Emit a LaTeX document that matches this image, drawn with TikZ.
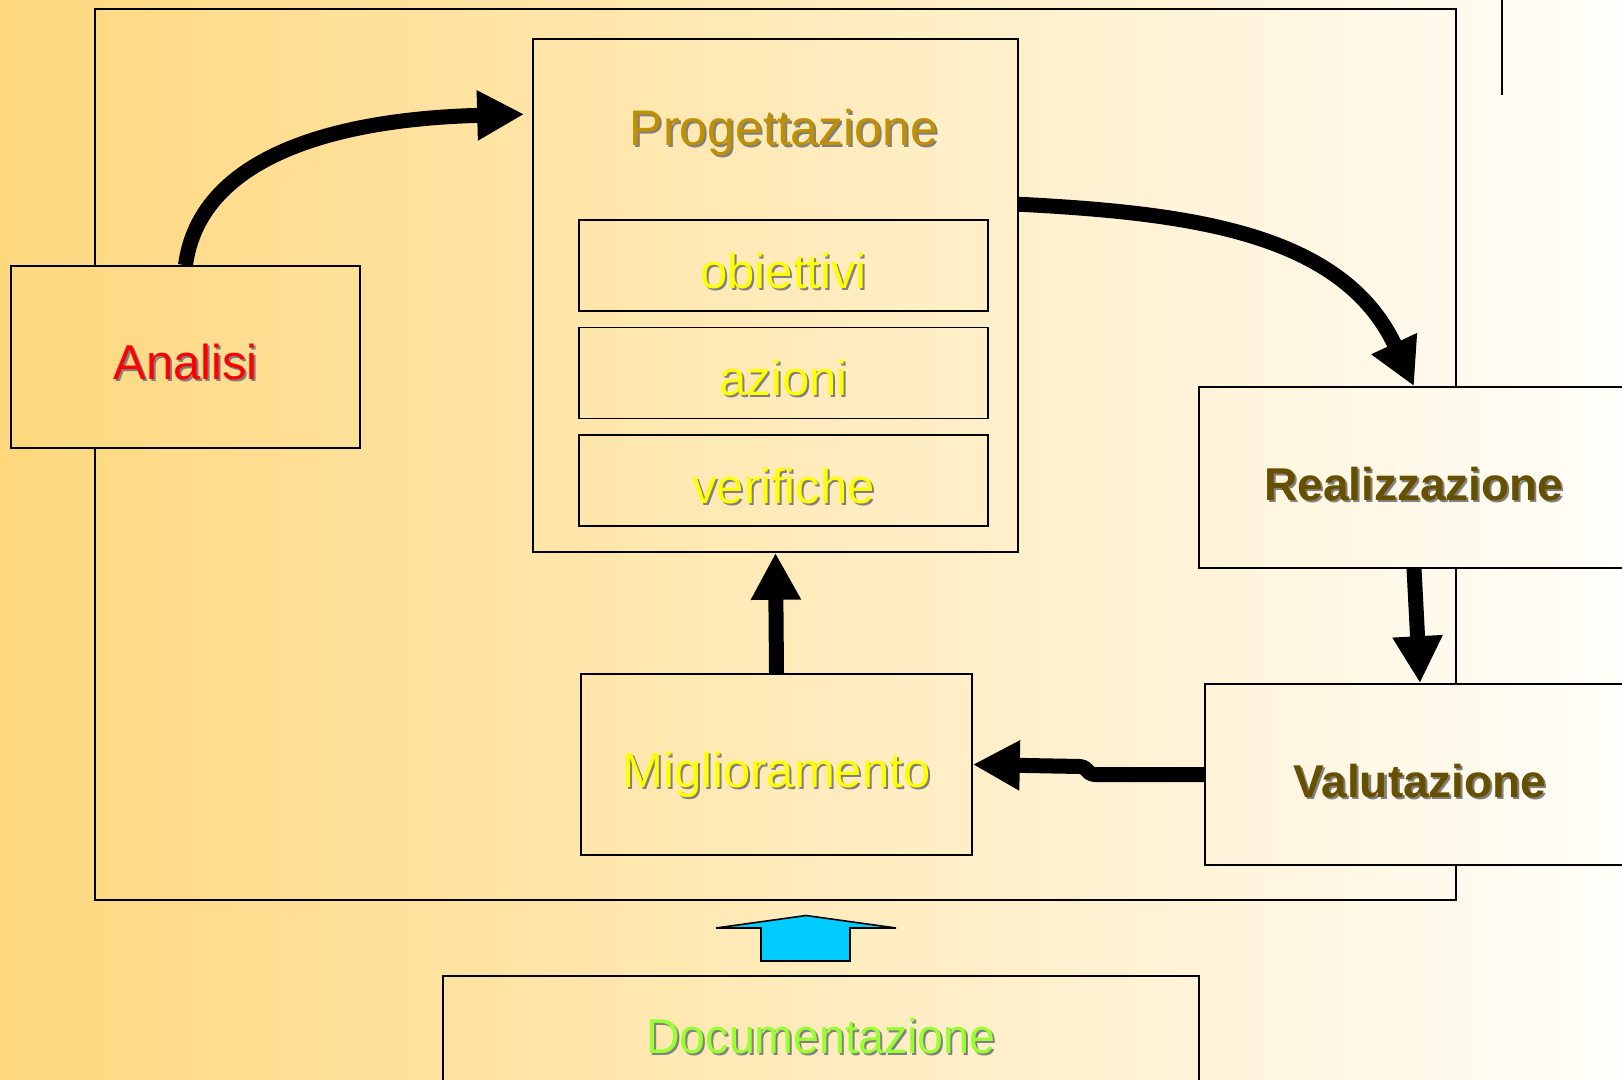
\documentclass[tikz,border=0pt]{standalone}
\usepackage{fontspec}
\setmainfont{Liberation Sans}
\usetikzlibrary{arrows.meta, positioning}

\definecolor{bgL}{RGB}{255,216,126}
\definecolor{bgR}{RGB}{255,254,250}
\definecolor{progC}{RGB}{192,144,0}
\definecolor{phaseC}{RGB}{102,80,0}
\definecolor{docC}{RGB}{153,255,51}
\definecolor{yelC}{RGB}{255,255,0}
\definecolor{cyanC}{RGB}{0,204,255}

\newcommand{\shtxt}[2]{\rlap{\kern2pt\raisebox{-2pt}{\textcolor{black!50}{#2}}}\textcolor{#1}{#2}}

\begin{document}
\begin{tikzpicture}[x=1pt, y=1pt,
      box/.style = {draw, line width=1.6pt, inner sep=0pt,
                    text height=45pt, text depth=0pt,
                    path picture={\shade[left color=bgL, right color=bgR]
                                  (bgSW) rectangle (bgNE);}},
     flow/.style = {line width=15pt, line join=round,
                    -{Triangle[length=47pt,width=47pt]}},
      big/.style = {font=\fontsize{49}{52}\selectfont},
     bold/.style = {font=\fontsize{46}{50}\selectfont\bfseries}
                    ]
  \coordinate (bgSW) at (0,-1079);
  \coordinate (bgNE) at (1622,0);
  \clip (bgSW) rectangle (bgNE);
  \shade[left color=bgL, right color=bgR] (bgSW) rectangle (bgNE);
% frame
  \draw[line width=1.6pt] (95,-9) rectangle (1456,-900);
  \draw[line width=1.6pt] (1502,0) -- (1502,-95);
% phases
  \node (ana)  [box, big, minimum width=349pt, minimum height=182pt]
        at (185.5,-357) {\shtxt{red}{Analisi}};
  \node (prog) [box, minimum width=485pt, minimum height=513pt]
        at (775.5,-295.5) {};
  \node (progT) [big, anchor=base, font=\fontsize{50}{52}\selectfont]
        at (784,-145) {\shtxt{progC}{Progettazione}};
  \node (obi)  [box, big, minimum width=409pt, minimum height=91pt]
        at (783.5,-265.5) {\shtxt{yelC}{obiettivi}};
  \node (azi)  [box, big, minimum width=409pt, minimum height=91pt,
                below=15pt of obi] {\shtxt{yelC}{azioni}};
  \node (ver)  [box, big, minimum width=409pt, minimum height=91pt,
                below=15pt of azi] {\shtxt{yelC}{verifiche}};
  \node (real) [box, bold, minimum width=430pt, minimum height=181pt]
        at (1414,-477.5) {\shtxt{phaseC}{Realizzazione}};
  \node (val)  [box, bold, minimum width=430pt, minimum height=181pt]
        at (1420,-774.5) {\shtxt{phaseC}{Valutazione}};
  \node (mig)  [box, big, minimum width=391pt, minimum height=181pt]
        at (776.5,-764.5) {\shtxt{yelC}{Miglioramento}};
  \node (doc)  [box, big, minimum width=756pt, minimum height=109pt]
        at (821,-1030.5) {\scalebox{0.95}[1]{\shtxt{docC}{Documentazione}}};
% connectors
  \coordinate (pIn)  at ([xshift=-8pt, yshift=-76pt]prog.north west);
  \coordinate (pOut) at ([yshift=-166pt]prog.north east);
  \draw[flow] (ana.north) .. controls +(14,106) and +(-195,-5) .. (pIn);
  \draw[flow] (pOut) to[out=-3, in=115] (real.north);
  \draw[flow] (real.south) -- (val.north);
  \draw[flow] (val.west) -- ++(-110,0)
        .. controls +(-7,0) and +(7,0) .. ++(-14,8) -- (mig.east);
  \draw[flow] (mig.north) -- (prog.south);
% documentation arrow
  \filldraw[fill=cyanC, line width=1.6pt] (716,-928) -- (806,-915.5)
        -- (896,-928) -- (850,-928) -- (850,-961) -- (761,-961)
        -- (761,-928) -- cycle;
\end{tikzpicture}
\end{document}
